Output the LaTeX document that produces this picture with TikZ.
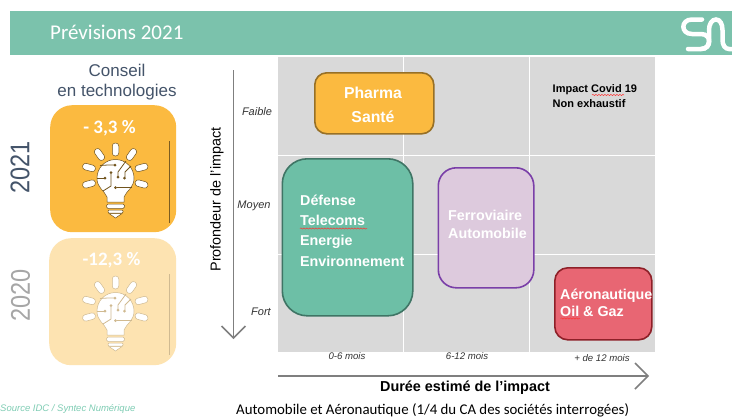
\documentclass[tikz,border=0pt]{standalone}
\usepackage{fontspec}
\setmainfont{Liberation Sans}
\newfontfamily\carl{Carlito}
\usetikzlibrary{decorations.pathmorphing}
\definecolor{hdr}{HTML}{7BC2AC}
\definecolor{grille}{HTML}{D9D9D9}
\definecolor{slate}{HTML}{44546A}
\definecolor{axe}{HTML}{7F7F7F}
\definecolor{sourcec}{HTML}{7FCDB4}
\definecolor{orA}{HTML}{FBBA40}
\definecolor{orB}{HTML}{FDE3B1}
\definecolor{grn}{HTML}{6DBFA6}
\definecolor{grnD}{HTML}{3F7565}
\definecolor{pur}{HTML}{DDCADD}
\definecolor{purD}{HTML}{7A3FA8}
\definecolor{rd}{HTML}{E86673}
\definecolor{rdD}{HTML}{8E2028}
\tikzset{
 x=1pt,y=-1pt,
 card/.style={rounded corners=22pt,minimum width=#1pt,minimum height=127pt,inner sep=0,anchor=north west},
 sector/.style={draw,line width=1.6pt,inner sep=0,anchor=north west},
 boxtxt/.style={font=\bfseries\fontsize{14.3}{16}\selectfont,text=white,inner sep=0,anchor=base west},
 itl/.style={font=\itshape\fontsize{11}{13}\selectfont,text=black!80,inner sep=0},
 itm/.style={font=\itshape\fontsize{9.6}{11}\selectfont,text=black!80,inner sep=0},
 axisline/.style={draw=axe,line width=1.7pt},
 squig/.style={draw=red!80,line width=.5pt,decorate,decoration={snake,amplitude=.6pt,segment length=3pt}},
 ray/.style={rounded corners=3pt,minimum width=13pt,minimum height=6.5pt,inner sep=0,draw,line width=.5pt,fill=white},
}
\newcommand{\bulbicon}[3]{% x offset, y offset, line colour
\begin{scope}[shift={(#1,#2)}]
 \foreach \cx/\cy/\ang in {115.5/149.5/90,99.5/154.5/-55,131.5/154.5/55,89/167.5/-15,141.5/167.5/15,89/184/15,141.5/184/-15}
   \node[ray,draw=#3,rotate=\ang] at (\cx,\cy) {};
 \draw[draw=#3,line width=.5pt,fill=white]
   (107,197) .. controls (104,190) and (97,188) .. (97,178)
   .. controls (97,168) and (105,159.5) .. (115.5,159.5)
   .. controls (126,159.5) and (134,168) .. (134,178)
   .. controls (134,188) and (127,190) .. (124,197)
   -- (124,202) -- (107,202) -- cycle;
 \draw[draw=#3,line width=.5pt,fill=white,rounded corners=1.5pt] (106.5,204) rectangle (124.5,208.5);
 \draw[draw=#3,line width=.5pt,fill=white,rounded corners=1pt] (108,210) rectangle (123,213);
 \draw[draw=#3,line width=.5pt,fill=white] (109,213.5) -- (122,213.5) -- (115.5,218) -- cycle;
 \draw[#3,line width=.8pt] (100,165.5) -- (108,165) -- (114,165);
 \fill[#3] (115,165) circle (1.5pt);
 \draw[#3,line width=.8pt] (97,178) -- (104,178);
 \fill[#3] (105,178) circle (1.5pt);
 \draw[#3,line width=.8pt] (111,174) -- (111,186) -- (103,191);
 \fill[#3] (111,172.5) circle (1.5pt);
 \draw[#3,line width=.8pt] (118,176) -- (118,172) -- (126,161);
 \fill[#3] (118,177) circle (1.5pt);
 \draw[#3,line width=.8pt] (125,177) -- (125,172) -- (131,166);
 \fill[#3] (124.5,178) circle (1.5pt);
 \draw[#3,line width=.8pt] (117,187.5) -- (132,187.5);
 \fill[#3] (115.5,187.5) circle (1.5pt);
\end{scope}}
\begin{document}
\begin{tikzpicture}
\useasboundingbox (0,0) rectangle (732,418);
\fill[white] (0,0) rectangle (732,418);
% header
\fill[hdr] (10,11) rectangle (732,55);
\node[font=\carl\fontsize{21}{24}\selectfont,text=white,anchor=west,inner sep=0] (title) at (50,32.5) {Prévisions 2021};
\begin{scope}
\clip (672,11) rectangle (732,55);
\draw[white,line width=4.5pt,line cap=round]
  (702,19.5) -- (692,19.5) .. controls (680.5,19.5) and (680.5,34) .. (692,34) -- (701,34)
  .. controls (712,34) and (712,49) .. (701,49) -- (688,49);
\draw[white,line width=4.5pt,line cap=round]
  (701,49) .. controls (707,49) and (709,45) .. (709,40) -- (709,30)
  .. controls (709,24) and (712,19.5) .. (716,19.5) .. controls (720,19.5) and (722.5,24) .. (722.5,30)
  -- (722.5,40) .. controls (722.5,45) and (725,49) .. (729,49) -- (735,49);
\end{scope}
% left column
\node[font=\fontsize{17}{20}\selectfont,text=slate,align=center,inner sep=0] (cat) at (117,82.5) {Conseil\\en technologies};
\node[card=126,fill=orA] (c21) at (50,105) {};
\node[card=127,fill=orB] (c20) at (49,238) {};
\node[font=\fontsize{27}{30}\selectfont,text=slate,rotate=90,xscale=.87,inner sep=0] (y21) at (20,167.5) {2021};
\node[font=\fontsize{27}{30}\selectfont,text=black!35,rotate=90,xscale=.87,inner sep=0] (y20) at (20.5,295.5) {2020};
\node[font=\carl\bfseries\fontsize{19}{22}\selectfont,text=white,inner sep=0] (v21) at (109.5,128) {- 3,3 \%};
\node[font=\carl\bfseries\fontsize{19}{22}\selectfont,text=white,inner sep=0] (v20) at (111.5,260.5) {-12,3 \%};
\draw[black!50!orA,line width=.9pt] (169,141) -- (169,223);
\draw[black!18!orB,line width=.9pt] (169,274) -- (169,355);
\bulbicon{0}{0}{black!55!orA}
\bulbicon{0}{133}{black!18!orB}
% matrix
\fill[grille] (278,57) rectangle (655,352);
\draw[white,line width=.8pt] (403.5,57) -- (403.5,352) (529.5,57) -- (529.5,352) (278,155) -- (655,155) (278,254) -- (655,254);
% axes
\coordinate (vs) at (233.5,70); \coordinate (ve) at (233.5,338);
\coordinate (hs) at (278,376); \coordinate (he) at (648,376);
\draw[axisline] (vs) -- (ve);
\draw[axisline] (221.5,326) -- (ve) -- (245.5,326);
\draw[axisline] (hs) -- (he);
\draw[axisline] (635,363) -- (he) -- (635,389);
\node[font=\fontsize{14.4}{16}\selectfont,rotate=90,inner sep=0] (prof) at (217,199.5) {Profondeur de l'impact};
\node[itl] (fa) at (257,112) {Faible};
\node[itl] (mo) at (254,206) {Moyen};
\node[itl] (fo) at (261,312) {Fort};
\node[itm] (t1) at (347,356.5) {0-6 mois};
\node[itm] (t2) at (467,356.5) {6-12 mois};
\node[itm] (t3) at (602,358) {+ de 12 mois};
\node[font=\bfseries\fontsize{14.4}{16}\selectfont,inner sep=0] (dur) at (465,388) {Durée estimé de l’impact};
% sectors
\node[sector,rounded corners=12pt,fill=orA,draw=black!40!orA,minimum width=119pt,minimum height=61pt] (ph) at (314,72) {};
\node[sector,rounded corners=25pt,fill=grn,draw=grnD,minimum width=130.5pt,minimum height=157pt] (gr) at (281.5,158) {};
\node[sector,rounded corners=18pt,fill=pur,draw=purD,minimum width=95.5pt,minimum height=120pt] (pu) at (437.5,167) {};
\node[sector,rounded corners=13pt,fill=rd,draw=rdD,minimum width=97pt,minimum height=72pt] (re) at (554,267) {};
\node[boxtxt,font=\bfseries\fontsize{15.8}{18}\selectfont,anchor=base] (a1) at (373,98.7) {Pharma};
\node[boxtxt,font=\bfseries\fontsize{15.8}{18}\selectfont,anchor=base] (a2) at (373,122) {Santé};
\node[boxtxt] (b1) at (300,205) {Défense};
\node[boxtxt] (b2) at (300,225.2) {Telecoms};
\node[boxtxt] (b3) at (300,245.6) {Energie};
\node[boxtxt] (b4) at (300,266) {Environnement};
\node[boxtxt] (c1) at (448,220.7) {Ferroviaire};
\node[boxtxt] (c2) at (448,238.3) {Automobile};
\node[boxtxt] (d1) at (560,299) {Aéronautique};
\node[boxtxt] (d2) at (560,316.5) {Oil \& Gaz};
\draw[squig] (300,228.5) -- (367,228.5);
\draw[squig] (560.5,318.5) -- (580,318.5);
% note
\node[font=\bfseries\fontsize{11}{14.5}\selectfont,align=left,anchor=west,inner sep=0] (note) at (552.5,96) {Impact Covid 19\\Non exhaustif};
\draw[squig] (592,95) -- (624,95);
% foot
\node[font=\itshape\fontsize{9.5}{11}\selectfont,text=sourcec,anchor=west,inner sep=0] (src) at (0,409) {Source IDC / Syntec Numérique};
\node[font=\carl\fontsize{14.85}{18}\selectfont,anchor=base west,inner sep=0] (foot) at (236,414.2) {Automobile et Aéronautique (1/4 du CA des sociétés interrogées)};
\end{tikzpicture}
\end{document}
